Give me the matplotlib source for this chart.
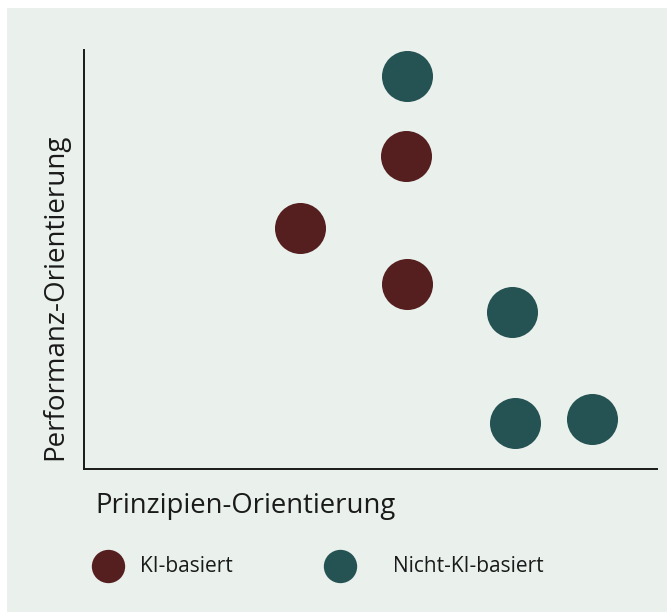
import matplotlib.pyplot as plt
from matplotlib.patches import Rectangle

plt.rcParams['font.family'] = ['Open Sans', 'DejaVu Sans']

# Data (axis units 0..10, no ticks)
groups = ['KI-basiert', 'Nicht-KI-basiert']
colors = {'KI-basiert': '#561f1f', 'Nicht-KI-basiert': '#255252'}
ki_x = [5.62, 3.77, 5.64]
ki_y = [7.47, 5.75, 4.42]
nki_x = [5.64, 7.47, 7.52, 8.87]
nki_y = [9.38, 3.75, 1.10, 1.19]

bg = '#eaf0ec'
W, H = 667, 612
fig = plt.figure(figsize=(W / 100, H / 100), dpi=100, facecolor=bg)

# white strips at top and left edge
fig.patches.append(Rectangle((0, 1 - 8 / H), 1, 8 / H, transform=fig.transFigure,
                             facecolor='white', edgecolor='none', zorder=0))
fig.patches.append(Rectangle((0, 0), 7 / W, 1, transform=fig.transFigure,
                             facecolor='white', edgecolor='none', zorder=0))

ax = fig.add_axes([84 / W, (H - 469) / H, (657 - 84) / W, (469 - 50) / H])
ax.set_facecolor(bg)
ax.scatter(ki_x, ki_y, s=1350, color=colors['KI-basiert'], linewidths=0)
ax.scatter(nki_x, nki_y, s=1350, color=colors['Nicht-KI-basiert'], linewidths=0)
ax.set_xlim(0, 10)
ax.set_ylim(0, 10)
ax.set_xticks([])
ax.set_yticks([])
for s in ['top', 'right']:
    ax.spines[s].set_visible(False)
for s in ['left', 'bottom']:
    ax.spines[s].set_linewidth(1.4)
    ax.spines[s].set_color('#1a1a1a')

fig.text(95 / W, 1 - 506 / H, 'Prinzipien-Orientierung', fontsize=19.8,
         color='#1a1a1a', ha='left', va='center')
fig.text(55 / W, 1 - 297 / H, 'Performanz-Orientierung', fontsize=20,
         color='#1a1a1a', ha='center', va='center', rotation=90)

# legend row
lg = fig.add_axes([0, 0, 1, 1], facecolor='none')
lg.set_xlim(0, W)
lg.set_ylim(H, 0)
lg.axis('off')
leg_marker_x = [108, 340]
leg_text_x = [140, 393]
for g, mx, tx in zip(groups, leg_marker_x, leg_text_x):
    lg.scatter([mx], [566], s=24 ** 2, color=colors[g], linewidths=0)
    lg.text(tx, 566, g, fontsize=15, color='#1a1a1a', ha='left', va='center')

plt.savefig('out.png', dpi=100, facecolor=fig.get_facecolor())
